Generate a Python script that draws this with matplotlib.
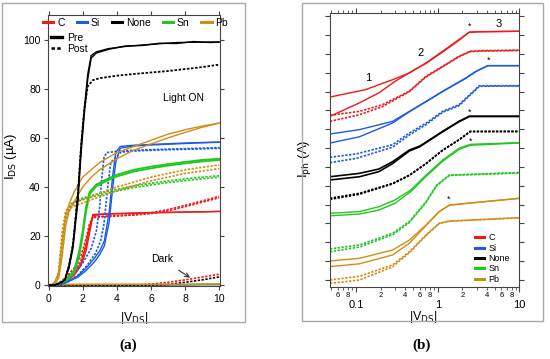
import matplotlib
matplotlib.use("Agg")
import matplotlib.pyplot as plt
from matplotlib.patches import Rectangle
from matplotlib.lines import Line2D
from matplotlib.ticker import FixedLocator, FuncFormatter, NullFormatter, LogLocator

plt.rcParams['font.family'] = ['Liberation Sans', 'DejaVu Sans']

RED = '#f01818'
BLUE = '#1c5ae6'
BLACK = '#000000'
GREEN = '#1ec81e'
ORANGE = '#d28c14'

materials = ['C', 'Si', 'None', 'Sn', 'Pb']
mat_colors = [RED, BLUE, BLACK, GREEN, ORANGE]

# ---------- panel (a): I_DS vs |V_DS| (uA) ----------
v_black_pre = [0, 0.4, 0.7, 0.95, 1.2, 1.43, 1.72, 1.91, 2.1, 2.3, 2.5, 2.8, 3.5, 4.5, 5.5, 6.5, 7.5, 8.5, 9.5, 10]
i_black_pre1 = [0, 0.2, 1, 2.2, 8, 16.6, 37, 57, 72, 86, 93.5, 95, 96.3, 97.2, 97.8, 98.3, 98.8, 98.9, 99, 99]
i_black_pre2 = [0, 0.2, 0.9, 2.0, 7, 15, 34, 54, 70, 84, 92.5, 94.5, 96, 97.4, 97.6, 98.5, 98.4, 99.2, 98.8, 99]
v_black_post = [0, 0.4, 0.7, 0.95, 1.2, 1.43, 1.72, 1.91, 2.1, 2.3, 2.6, 3, 4, 5, 6, 7, 8, 9, 10]
i_black_post = [0, 0.2, 1, 2.2, 8, 16.6, 37, 57, 72, 81, 83.5, 84.3, 85.3, 86, 86.6, 87.2, 88, 88.8, 89.8]

v_red = [0, 0.5, 1, 1.5, 1.9, 2.2, 2.4, 2.6, 3, 4, 5, 6, 7, 8, 9, 10]
i_red_pre1 = [0, 0.3, 2, 5, 9, 16, 23, 28.8, 29, 29.2, 29.4, 29.6, 29.7, 29.8, 29.9, 30.1]
i_red_pre2 = [0, 0.3, 1.6, 4, 8, 14, 21, 28.3, 28.8, 29.1, 29.3, 29.5, 29.6, 29.8, 29.9, 30.0]
i_red_post1 = [0, 0.5, 3, 7, 12, 19, 25, 27.8, 28, 28.3, 28.7, 29.5, 30.8, 32.5, 34.3, 36.2]
i_red_post2 = [0, 0.4, 2.5, 6, 10, 17, 24, 27.5, 27.8, 28.2, 28.6, 29.2, 30.3, 32, 33.8, 35.6]

v_blue_pre = [0, 0.5, 1, 1.72, 2.2, 2.69, 3.0, 3.27, 3.56, 3.75, 3.94, 4.2, 5, 6, 7, 8, 9, 10]
i_blue_pre1 = [0, 0.3, 1.2, 3.8, 7, 11, 14, 18, 30, 44, 54, 56.5, 57, 57.3, 57.6, 57.9, 58.1, 58.3]
i_blue_pre2 = [0, 0.3, 1, 3.3, 6, 9.5, 12.5, 16, 26, 39, 50, 55.8, 56.7, 57.1, 57.4, 57.7, 58, 58.2]
v_blue_post = [0, 0.5, 1, 1.5, 2, 2.5, 2.8, 3.0, 3.1, 3.25, 3.4, 4, 5, 6, 7, 8, 9, 10]
i_blue_post1 = [0, 0.5, 2, 5, 9, 15, 22, 32, 42, 52, 54, 54.5, 55, 55.2, 55.4, 55.6, 55.8, 56]
i_blue_post2 = [0, 0.4, 1.7, 4.3, 8, 13, 18, 25, 32, 42, 50, 54.2, 54.7, 55, 55.2, 55.4, 55.6, 55.8]

v_green_pre = [0, 0.5, 1, 1.5, 1.8, 2.0, 2.2, 2.4, 2.8, 3.5, 4, 5, 6, 7, 8, 9, 10]
i_green_pre1 = [0, 0.5, 2, 6, 14, 22, 32, 38, 41, 43.5, 45, 47, 48.3, 49.3, 50.2, 51, 51.5]
i_green_pre2 = [0, 0.4, 1.7, 5, 12, 20, 30, 37, 40.3, 42.8, 44.3, 46.3, 47.6, 48.7, 49.6, 50.4, 51]
v_post_early = [0, 0.4, 0.6, 0.8, 1.0, 1.3, 1.6, 2, 3, 4, 5, 6, 7, 8, 9, 10]
i_green_post1 = [0, 1, 5, 18, 28, 33, 34.5, 35.5, 37.5, 39, 40.5, 41.5, 42.5, 43.3, 44, 44.6]
i_green_post2 = [0, 0.8, 4, 15, 26, 32, 33.8, 34.8, 36.8, 38.3, 39.8, 40.8, 41.8, 42.6, 43.3, 44]

v_pb_pre = [0, 0.3, 0.6, 0.8, 1.0, 1.2, 1.5, 2, 2.5, 3, 4, 5, 6, 7, 8, 9, 10]
i_pb_pre1 = [0, 0.5, 5, 18, 28, 33, 38, 44, 47, 50, 54, 56.5, 59, 61.5, 63.3, 64.8, 66]
i_pb_pre2 = [0, 0.3, 3, 12, 24, 30, 34, 40, 44, 47, 51.5, 55, 57.5, 60, 62.2, 64.3, 66]
i_pb_post1 = [0, 1, 6, 22, 30, 33, 34, 35, 37.5, 40, 42, 44, 45.5, 47, 48, 49]
i_pb_post2 = [0, 0.8, 5, 19, 28, 31.5, 32.5, 33.5, 36, 38.5, 40.5, 42.5, 44, 45.5, 46.5, 47.5]

v_dark = [0, 1, 2, 3, 4, 5, 6, 7, 8, 9, 10]
i_dark_flat = [0, 0.1, 0.2, 0.2, 0.2, 0.2, 0.2, 0.2, 0.2, 0.3, 0.3]
i_dark_red_post = [0, 0, 0, 0, 0, 0.1, 0.5, 1.2, 2.2, 3.3, 4.5]
i_dark_black_post = [0, 0, 0, 0, 0, 0, 0, 0.3, 1.2, 2.2, 3.4]

# ---------- panel (b): I_ph vs |V_DS| (log x, arbitrary offset y) ----------
vb_red_pre1 = [0.048, 0.13, 0.28, 0.45, 0.72, 1.15, 1.82, 2.45, 3.2, 10]
yb_red_pre1 = [10.71, 11.1, 11.63, 11.99, 12.52, 13.14, 13.76, 14.16, 14.18, 14.2]
vb_red_pre2 = [0.048, 0.11, 0.19, 0.31, 0.45, 0.72, 1.15, 1.82, 2.4, 3.2, 10]
yb_red_pre2 = [9.69, 10.4, 10.93, 11.58, 12.0, 12.5, 13.1, 13.72, 14.14, 14.17, 14.2]
vb_red_post = [0.048, 0.11, 0.21, 0.45, 0.72, 1.15, 1.82, 2.5, 3.5, 10]
yb_red_post1 = [9.74, 9.95, 10.3, 11.02, 11.81, 12.34, 12.87, 13.14, 13.17, 13.2]
yb_red_post2 = [9.42, 9.77, 10.2, 11.0, 11.78, 12.32, 12.85, 13.12, 13.15, 13.18]

vb_blue_pre = [0.048, 0.11, 0.28, 0.45, 0.72, 1.15, 2.2, 2.94, 4.1, 10]
yb_blue_pre1 = [8.75, 8.98, 9.42, 9.95, 10.48, 11.02, 11.72, 12.08, 12.38, 12.38]
yb_blue_pre2 = [8.27, 8.6, 9.33, 9.93, 10.46, 11.0, 11.7, 12.06, 12.37, 12.37]
vb_blue_post = [0.048, 0.1, 0.28, 0.45, 0.72, 1.15, 1.82, 3.23, 10]
yb_blue_post1 = [7.51, 7.69, 8.18, 8.8, 9.33, 9.95, 10.3, 11.31, 11.31]
yb_blue_post2 = [7.23, 7.45, 8.05, 8.7, 9.25, 9.9, 10.25, 11.28, 11.3]

vb_black_pre = [0.048, 0.11, 0.19, 0.28, 0.45, 0.6, 1.15, 1.82, 2.44, 10]
yb_black_pre1 = [6.48, 6.66, 6.89, 7.28, 7.9, 8.1, 8.89, 9.42, 9.69, 9.69]
yb_black_pre2 = [6.31, 6.48, 6.75, 7.18, 7.85, 8.07, 8.87, 9.4, 9.68, 9.68]
vb_black_post = [0.048, 0.11, 0.28, 0.45, 0.72, 1.15, 1.82, 2.5, 10]
yb_black_post1 = [5.34, 5.6, 6.13, 6.57, 7.19, 7.9, 8.45, 8.89, 8.89]
yb_black_post2 = [5.28, 5.55, 6.1, 6.55, 7.17, 7.88, 8.43, 8.87, 8.88]

vb_green_pre = [0.048, 0.11, 0.19, 0.3, 0.47, 0.72, 1.15, 1.82, 2.5, 10]
yb_green_pre1 = [4.54, 4.63, 4.89, 5.25, 5.78, 6.57, 7.37, 7.99, 8.2, 8.29]
yb_green_pre2 = [4.41, 4.5, 4.71, 5.07, 5.7, 6.5, 7.3, 7.93, 8.15, 8.27]
vb_green_post = [0.048, 0.11, 0.28, 0.45, 0.72, 0.97, 1.39, 10]
yb_green_post1 = [2.65, 2.86, 3.48, 4.1, 5.16, 6.04, 6.57, 6.7]
yb_green_post2 = [2.5, 2.75, 3.4, 4.05, 5.12, 6.0, 6.55, 6.68]

vb_pb_pre = [0.048, 0.11, 0.28, 0.45, 0.72, 1.04, 1.39, 2.94, 10]
yb_pb_pre1 = [2.01, 2.15, 2.59, 3.12, 3.92, 4.63, 4.98, 5.12, 5.34]
yb_pb_pre2 = [1.71, 1.86, 2.33, 2.95, 3.9, 4.62, 4.97, 5.11, 5.33]
vb_pb_post = [0.048, 0.11, 0.28, 0.45, 0.72, 1.04, 1.39, 10]
yb_pb_post1 = [1.0, 1.2, 1.8, 2.5, 3.39, 4.01, 4.13, 4.31]
yb_pb_post2 = [0.82, 1.0, 1.7, 2.45, 3.36, 3.99, 4.12, 4.3]

# knee markers (*) and region labels in (b)
star_v = [2.47, 4.16, 2.45, 2.5, 1.36]
star_y = [14.47, 12.64, 9.92, 8.36, 5.28]
region_labels = ['1', '2', '3']
region_v = [0.14, 0.61, 5.57]
region_y = [11.72, 13.05, 14.59]

DOT = (0, (1.4, 0.9))

fig = plt.figure(figsize=(5.5, 3.59), dpi=100)

# grey frames around the two panels
fig.add_artist(Rectangle((0.0036, 0.103), 0.442, 0.8886, transform=fig.transFigure,
                         fill=False, ec='#a8a8a8', lw=1.0))
fig.add_artist(Rectangle((0.549, 0.1058), 0.438, 0.8858, transform=fig.transFigure,
                         fill=False, ec='#a8a8a8', lw=1.0))

# ===== (a) =====
ax = fig.add_axes([0.0867, 0.2033, 0.3133, 0.7549])
lw = 1.0
ax.plot(v_dark, i_dark_flat, color=GREEN, lw=lw)
ax.plot(v_dark, i_dark_flat, color=BLUE, lw=lw)
ax.plot(v_dark, i_dark_red_post, color=RED, lw=1.2, ls=DOT)
ax.plot(v_dark, i_dark_black_post, color=BLACK, lw=1.2, ls=DOT)
ax.plot(v_dark, [x + 0.2 for x in i_dark_flat], color=ORANGE, lw=1.2)

ax.plot(v_red, i_red_post1, color=RED, lw=1.2, ls=DOT)
ax.plot(v_red, i_red_post2, color=RED, lw=1.2, ls=DOT)
ax.plot(v_red, i_red_pre1, color=RED, lw=lw)
ax.plot(v_red, i_red_pre2, color=RED, lw=lw)
ax.plot(v_blue_post, i_blue_post1, color=BLUE, lw=1.2, ls=DOT)
ax.plot([v + 0.25 for v in v_blue_post], i_blue_post2, color=BLUE, lw=1.2, ls=DOT)
ax.plot(v_blue_pre, i_blue_pre1, color=BLUE, lw=lw)
ax.plot(v_blue_pre, i_blue_pre2, color=BLUE, lw=lw)
ax.plot(v_post_early, i_green_post1, color=GREEN, lw=1.2, ls=DOT)
ax.plot(v_post_early, i_green_post2, color=GREEN, lw=1.2, ls=DOT)
ax.plot(v_green_pre, i_green_pre1, color=GREEN, lw=1.3)
ax.plot(v_green_pre, i_green_pre2, color=GREEN, lw=1.3)
ax.plot(v_post_early, i_pb_post1, color=ORANGE, lw=1.2, ls=DOT)
ax.plot(v_post_early, i_pb_post2, color=ORANGE, lw=1.2, ls=DOT)
ax.plot(v_pb_pre, i_pb_pre1, color=ORANGE, lw=lw)
ax.plot(v_pb_pre, i_pb_pre2, color=ORANGE, lw=lw)
ax.plot(v_black_post, i_black_post, color=BLACK, lw=1.3, ls=DOT)
ax.plot(v_black_pre, i_black_pre1, color=BLACK, lw=lw)
ax.plot(v_black_pre, i_black_pre2, color=BLACK, lw=lw)

ax.set_xlim(-0.05, 10.05)
ax.set_ylim(-0.3, 110)
ax.set_xticks([0, 2, 4, 6, 8, 10])
ax.set_yticks([0, 20, 40, 60, 80, 100])
ax.tick_params(direction='out', length=3, width=0.8, labelsize=7.5, pad=2,
               top=True, right=True, color='#444444')
ax.tick_params(axis='x', pad=3)
for s in ax.spines.values():
    s.set_color('#444444')
    s.set_linewidth(0.8)
ax.set_ylabel(r'I$_{\rm DS}$ (µA)', fontsize=9.5)
ax.yaxis.set_label_coords(-0.165, 0.477)
ax.set_xlabel(r'|V$_{\rm DS}$|', fontsize=9)
ax.xaxis.set_label_coords(0.503, -0.09)

ax.text(7.9, 76.3, 'Light ON', fontsize=7.5, ha='center', va='center')
ax.annotate('Dark', xy=(8.3, 3.1), xytext=(6.65, 10.5), fontsize=7.5,
            ha='center', va='center',
            arrowprops=dict(arrowstyle='->', lw=0.8, color='#333333',
                            shrinkA=4, shrinkB=0))

mat_handles = [Line2D([], [], color=c, lw=2.2) for c in mat_colors]
leg1 = ax.legend(mat_handles, materials, ncol=5, loc='center',
                 bbox_to_anchor=(0.51, 0.972), frameon=False, fontsize=7.5,
                 handlelength=1.0, handletextpad=0.35, columnspacing=1.15,
                 borderpad=0, borderaxespad=0)
ax.add_artist(leg1)
pp_handles = [Line2D([], [], color=BLACK, lw=2.4),
              Line2D([], [], color=BLACK, lw=1.8, ls=DOT)]
ax.legend(pp_handles, ['Pre', 'Post'], loc='upper left',
          bbox_to_anchor=(0.02, 0.935), frameon=False, fontsize=7.5,
          handlelength=1.0, handletextpad=0.5, labelspacing=0.1,
          borderpad=0, borderaxespad=0)

# ===== (b) =====
bx = fig.add_axes([0.6, 0.2006, 0.3444, 0.7632])
bx.set_xscale('log')
blw = 1.0
bx.plot(vb_red_pre1, yb_red_pre1, color=RED, lw=blw)
bx.plot(vb_red_pre2, yb_red_pre2, color=RED, lw=blw)
bx.plot(vb_red_post, yb_red_post1, color=RED, lw=1.2, ls=DOT)
bx.plot(vb_red_post, yb_red_post2, color=RED, lw=1.2, ls=DOT)
bx.plot(vb_blue_pre, yb_blue_pre1, color=BLUE, lw=blw)
bx.plot(vb_blue_pre, yb_blue_pre2, color=BLUE, lw=blw)
bx.plot(vb_blue_post, yb_blue_post1, color=BLUE, lw=1.2, ls=DOT)
bx.plot(vb_blue_post, yb_blue_post2, color=BLUE, lw=1.2, ls=DOT)
bx.plot(vb_black_pre, yb_black_pre1, color=BLACK, lw=1.2)
bx.plot(vb_black_pre, yb_black_pre2, color=BLACK, lw=1.2)
bx.plot(vb_black_post, yb_black_post1, color=BLACK, lw=1.2, ls=DOT)
bx.plot(vb_black_post, yb_black_post2, color=BLACK, lw=1.2, ls=DOT)
bx.plot(vb_green_pre, yb_green_pre1, color=GREEN, lw=blw)
bx.plot(vb_green_pre, yb_green_pre2, color=GREEN, lw=blw)
bx.plot(vb_green_post, yb_green_post1, color=GREEN, lw=1.2, ls=DOT)
bx.plot(vb_green_post, yb_green_post2, color=GREEN, lw=1.2, ls=DOT)
bx.plot(vb_pb_pre, yb_pb_pre1, color=ORANGE, lw=blw)
bx.plot(vb_pb_pre, yb_pb_pre2, color=ORANGE, lw=blw)
bx.plot(vb_pb_post, yb_pb_post1, color=ORANGE, lw=1.2, ls=DOT)
bx.plot(vb_pb_post, yb_pb_post2, color=ORANGE, lw=1.2, ls=DOT)

for v, y in zip(star_v, star_y):
    bx.text(v, y, '*', fontsize=6.5, ha='center', va='center')
for s, v, y in zip(region_labels, region_v, region_y):
    bx.text(v, y, s, fontsize=8, ha='center', va='center')

bx.set_xlim(0.048, 10)
bx.set_ylim(0.63, 15.17)
bx.set_yticks(range(1, 16))
bx.yaxis.set_major_formatter(NullFormatter())
bx.xaxis.set_major_locator(FixedLocator([0.1, 1, 10]))
bx.xaxis.set_major_formatter(FuncFormatter(lambda x, p: {0.1: '0.1', 1: '1', 10: '10'}.get(round(x, 3), '')))
bx.xaxis.set_minor_locator(LogLocator(base=10, subs=range(2, 10), numticks=20))


def minor_fmt(x, p):
    lead = int(round(x / 10 ** int(f'{x:e}'.split('e')[1])))
    return str(lead) if lead in (2, 4, 6, 8) else ''


bx.xaxis.set_minor_formatter(FuncFormatter(minor_fmt))
bx.tick_params(which='major', direction='out', length=3.5, width=0.8, labelsize=8,
               pad=6, top=True, right=True, color='#444444')
bx.tick_params(which='minor', direction='out', length=2, width=0.6, labelsize=5.5,
               pad=1.5, top=True, color='#444444')
for s in bx.spines.values():
    s.set_color('#444444')
    s.set_linewidth(0.8)
bx.set_ylabel(r'I$_{\rm ph}$ (A)', fontsize=9.5)
bx.yaxis.set_label_coords(-0.088, 0.467)
bx.set_xlabel(r'|V$_{\rm DS}$|', fontsize=9)
bx.xaxis.set_label_coords(0.49, -0.08)

bx.legend(mat_handles, materials, loc='lower left', bbox_to_anchor=(0.755, 0.005),
          frameon=False, fontsize=6.5, handlelength=1.0, handletextpad=0.5,
          labelspacing=0.15, borderpad=0.2, borderaxespad=0)

fig.text(0.2327, 0.039, '(a)', fontsize=11, fontweight='bold',
         family=['Liberation Serif', 'DejaVu Serif'], ha='center', va='center')
fig.text(0.7667, 0.039, '(b)', fontsize=11, fontweight='bold',
         family=['Liberation Serif', 'DejaVu Serif'], ha='center', va='center')

fig.savefig('out.png', dpi=100)
